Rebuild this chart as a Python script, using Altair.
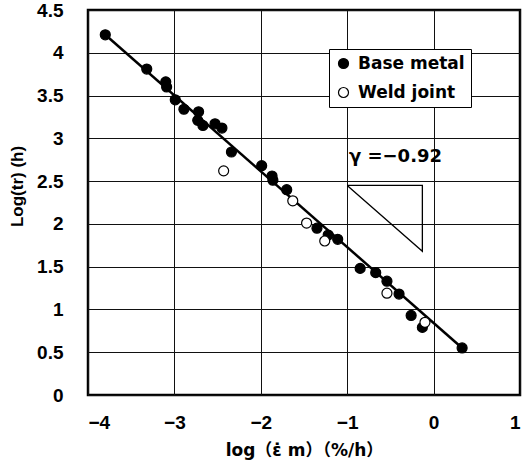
import altair as alt
import pandas as pd

# Base metal (filled)
base_x = [-3.80, -3.32, -3.10, -3.09, -2.99, -2.89, -2.72, -2.73, -2.67, -2.53, -2.45,
          -2.34, -1.99, -1.87, -1.86, -1.70, -1.35, -1.22, -1.11, -0.85, -0.67, -0.54,
          -0.40, -0.26, -0.13, 0.33]
base_y = [4.21, 3.81, 3.66, 3.60, 3.45, 3.34, 3.31, 3.21, 3.15, 3.17, 3.12,
          2.84, 2.68, 2.56, 2.51, 2.40, 1.95, 1.87, 1.82, 1.48, 1.43, 1.33,
          1.18, 0.93, 0.79, 0.55]
# Weld joint (open)
weld_x = [-2.43, -1.63, -1.47, -1.26, -0.54, -0.10]
weld_y = [2.62, 2.27, 2.01, 1.80, 1.19, 0.85]

fit_x = [-3.80, 0.33]
fit_y = [4.21, 0.55]

tri_x = [-1.0, -0.13, -0.13, -1.0]
tri_y = [2.45, 2.45, 1.68, 2.45]

series = ["Base metal", "Weld joint"]

pts = pd.DataFrame({
    "x": base_x + weld_x,
    "y": base_y + weld_y,
    "s": [series[0]] * len(base_x) + [series[1]] * len(weld_x),
})
fit = pd.DataFrame({"x": fit_x, "y": fit_y})
tri = pd.DataFrame({"x": tri_x, "y": tri_y, "o": list(range(len(tri_x)))})
lab = pd.DataFrame({"x": [-0.98], "y": [2.78], "t": ["γ =−0.92"]})

FONT = "Liberation Sans"
WIDE = "DejaVu Sans"

xs = alt.Scale(domain=[-4, 1], nice=False, zero=False)
ys = alt.Scale(domain=[0, 4.5], nice=False, zero=False)

xax = alt.Axis(values=[-4, -3, -2, -1, 0, 1], format="~g",
               labelExpr="replace(datum.label, '-', '−')",
               grid=True, gridColor="#111", gridOpacity=1, gridWidth=1, domain=False, ticks=False,
               labelPadding=18, labelFont=FONT, labelFontSize=19, labelFontWeight="bold",
               labelColor="black", title="log（ε̇ m）（%/h）",
               titleFont="DejaVu Sans, Noto Sans CJK JP",
               titleFontSize=17, titleFontWeight="bold", titleColor="black",
               titlePadding=10)
yax = alt.Axis(values=[0, 0.5, 1, 1.5, 2, 2.5, 3, 3.5, 4, 4.5], format="~g",
               grid=True, gridColor="#111", gridOpacity=1, gridWidth=1, domain=False, ticks=False,
               labelPadding=25, labelFont=FONT, labelFontSize=19, labelFontWeight="bold",
               labelColor="black", title="Log(tr) (h)", titleFont=FONT,
               titleFontSize=17, titleFontWeight="bold", titleColor="black",
               titleX=-71, titleY=176, titleBaseline="middle")

grid = alt.Chart(fit).mark_point(opacity=0).encode(
    x=alt.X("x:Q", scale=xs, axis=xax),
    y=alt.Y("y:Q", scale=ys, axis=yax),
)

line = alt.Chart(fit).mark_line(color="black", strokeWidth=2.5).encode(
    x=alt.X("x:Q", scale=xs), y=alt.Y("y:Q", scale=ys))

triangle = alt.Chart(tri).mark_line(color="black", strokeWidth=1.3).encode(
    x=alt.X("x:Q", scale=xs), y=alt.Y("y:Q", scale=ys), order="o:Q")

points = alt.Chart(pts).mark_point(filled=True, stroke="black", strokeWidth=1.2,
                                   size=100, opacity=1, shape="circle").encode(
    x=alt.X("x:Q", scale=xs),
    y=alt.Y("y:Q", scale=ys),
    fill=alt.Fill("s:N", scale=alt.Scale(domain=series, range=["black", "white"]),
                  legend=alt.Legend(title=None, orient="none", legendX=241, legendY=39,
                                    fillColor="white", strokeColor="black", padding=6,
                                    labelFont=WIDE, labelFontSize=17, labelFontWeight="bold",
                                    labelColor="black", symbolSize=100,
                                    symbolStrokeColor="black", symbolStrokeWidth=1.2,
                                    symbolType="circle", rowPadding=11, labelOffset=6)),
)

text = alt.Chart(lab).mark_text(align="left", baseline="middle", font=WIDE,
                                fontSize=18, fontWeight="bold", color="black").encode(
    x=alt.X("x:Q", scale=xs), y=alt.Y("y:Q", scale=ys), text="t:N")

chart = alt.layer(grid, line, triangle, points, text).properties(
    width=432, height=385,
    autosize=alt.AutoSizeParams(type="none"),
    padding={"left": 88, "top": 10, "right": 2, "bottom": 77},
    background="white",
).configure_view(stroke="black", strokeWidth=2.5)

chart.save("out.html", embed_options={"renderer": "svg", "actions": False})
